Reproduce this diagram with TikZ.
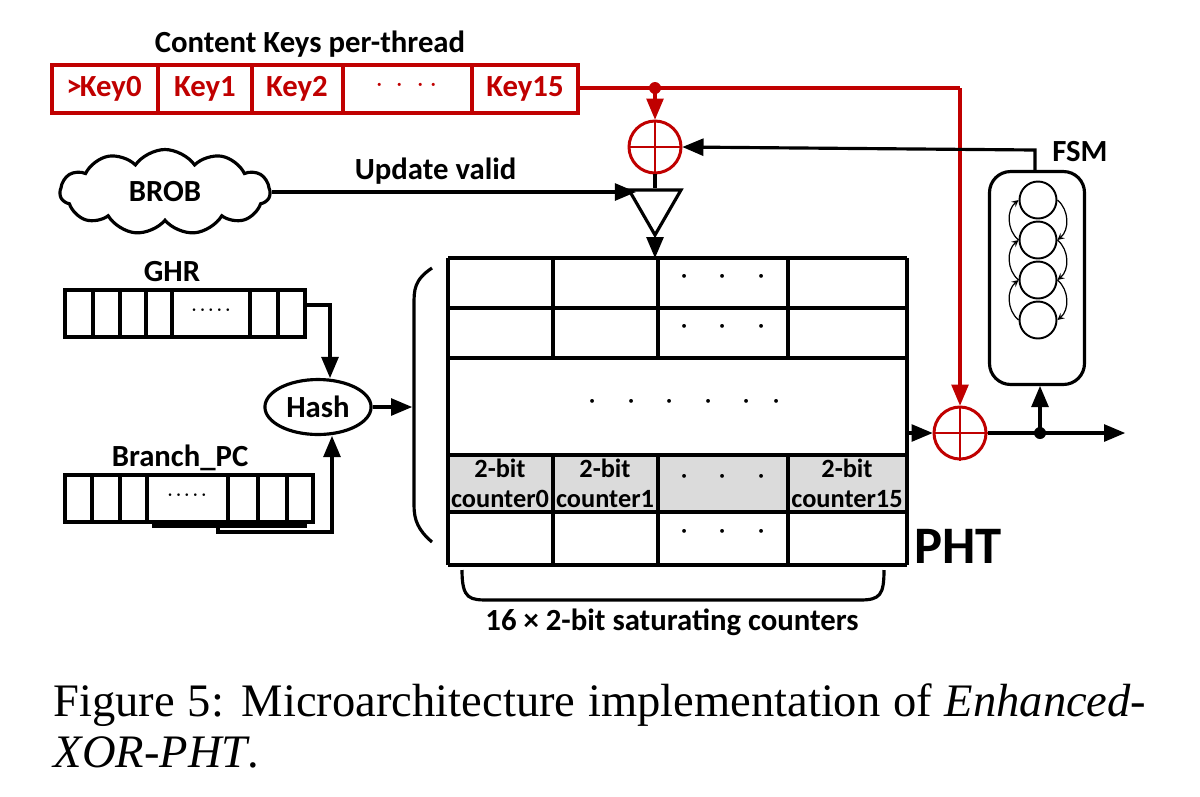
\documentclass[tikz,border=0pt]{standalone}
\usepackage{fontspec}
\setmainfont{Liberation Serif}
\newfontfamily\diafont{Carlito}
\usetikzlibrary{arrows,shapes.symbols,shapes.geometric,positioning}
\definecolor{keyred}{RGB}{192,0,0}
\tikzset{
  lbl/.style={font=\diafont\bfseries\fontsize{17.5}{20}\selectfont},
  cell/.style={font=\diafont\bfseries\fontsize{15}{17}\selectfont,align=center},
  dots/.style={font=\fontsize{20}{20}\selectfont,inner sep=1pt},
  xorc/.style={circle,draw=keyred,line width=1.7pt,minimum size=1.04cm,inner sep=0pt},
  arr/.style={-triangle 45,line width=1.8pt},
  state/.style={circle,draw,line width=1.1pt,minimum size=0.74cm,inner sep=0pt}
}
\begin{document}
\begin{tikzpicture}[x=0.02cm,y=-0.02cm,line width=1.8pt]
\useasboundingbox (0,0) rectangle (1200,796);
%%%%% Keys %%%%%
\node[lbl] (title) at (310,44) {Content Keys per-thread};
\draw[keyred] (52,65) rectangle (578,113);
\foreach \x in {158,252,343,472}{
\draw[keyred] (\x,65)--(\x,113);
}
\node[lbl,text=keyred] (k0) at (104,89) {>\kern-1pt Key0};
\node[lbl,text=keyred] (k1) at (205,89) {Key1};
\node[lbl,text=keyred] (k2) at (297,89) {Key2};
\node[dots,font=\fontsize{16}{16}\selectfont,text=keyred] (kd) at (407,86) {$\cdot\,\cdot\,\cdot\,\cdot$};
\node[lbl,text=keyred] (k15) at (525,89) {Key15};
\coordinate (kout) at (578,88);
\coordinate (ktap) at (655,88);
\coordinate (kcorner) at (960,88);
%%%%% XOR / buffer %%%%%
\node[xorc] (x1) at (655,147) {};
\draw[keyred,line width=1.5pt] (x1.north)--(x1.south) (x1.west)--(x1.east);
\node[xorc] (x2) at (960,433) {};
\draw[keyred,line width=1.5pt] (x2.north)--(x2.south) (x2.west)--(x2.east);
\draw[keyred] (kout)--(kcorner);
\fill[keyred] (ktap) circle (6);
\draw[keyred,arr] (ktap)--(x1.north);
\draw[keyred,arr] (kcorner)--(x2.north);
\node[isosceles triangle,shape border rotate=-90,draw,isosceles triangle apex angle=60,
  minimum height=0.9cm,inner sep=0pt] (buf) at (655,205) {};
\draw (x1.south)--(buf.north);
%%%%% BROB %%%%%
\node[cloud,draw,cloud puffs=11,cloud puff arc=110,aspect=2.6,minimum width=4.2cm,
  minimum height=1.7cm,lbl] (brob) at (165,192) {BROB};
\draw[arr] (brob.east)--(buf.west|-brob.east) node[lbl,pos=0.45,above] {Update valid};
%%%%% Table %%%%%
\fill[gray!28] (448,455) rectangle (907,512);
\foreach \y in {258,308,358,455,512,565}{
\draw (448,\y)--(907,\y);
}
\draw (448,258)--(448,565) (907,258)--(907,565);
\foreach \x in {553,658,788}{
\draw (\x,258)--(\x,358) (\x,455)--(\x,565);
}
\foreach \y in {283,333,483,538}{
\node[dots] at (723,\y-6) {$\cdot\;\;\cdot\;\;\cdot$};
}
\node[dots] (mid) at (685,402) {$\cdot\;\;\cdot\;\;\cdot\;\;\cdot\;\;\cdot\;\;\cdot$};
\node[cell] (c0) at (500,483) {2-bit\\counter0};
\node[cell] (c1) at (605,483) {2-bit\\counter1};
\node[cell] (c15) at (847,483) {2-bit\\counter15};
\node[font=\diafont\bfseries\fontsize{30}{32}\selectfont] (pht) at (958,546) {PHT};
\coordinate (ttop) at (655,258);
\draw[arr] (buf.south)--(ttop);
\draw (462,570) .. controls (462,600) and (470,600) .. (490,600) -- (860,600)
  .. controls (880,600) and (884,595) .. (884,570);
\node[lbl] (satlbl) at (672,622) {16 × 2-bit saturating counters};
\draw (432,268) .. controls (414,280) and (414,290) .. (414,305) -- (414,505)
  .. controls (414,520) and (418,530) .. (432,542);
%%%%% GHR / Branch_PC %%%%%
\node[lbl] (ghr) at (172,272) {GHR};
\draw (65,290) rectangle (305,337);
\foreach \x in {93,120,146,172,250,278}{
\draw (\x,290)--(\x,337);
}
\node[cell] at (211,311) {$\cdot\!\cdot\!\cdot\!\cdot\!\cdot$};
\node[lbl] (bpc) at (180,458) {Branch\_PC};
\draw (65,475) rectangle (313,522);
\foreach \x in {92,120,147,228,258,287}{
\draw (\x,475)--(\x,522);
}
\node[cell] at (187,496) {$\cdot\!\cdot\!\cdot\!\cdot\!\cdot$};
\node[ellipse,draw,lbl,minimum width=1.8cm,minimum height=1.1cm] (hash) at (318,407) {Hash};
\draw[arr] (305,305)--(330,305)--(hash.north-|330,0);
\draw (152,526)--(307,526);
\draw[arr] (218,526)--(218,532)--(332,532)--(hash.south-|332,0);
\draw[arr] (hash.east)--(412,407);
%%%%% FSM %%%%%
\node[draw,rounded corners=12pt,minimum width=1.9cm,minimum height=4.26cm] (fsm) at (1037,278) {};
\node[lbl] (fsml) at (1080,152) {FSM};
\foreach \i/\y in {1/200,2/240,3/280,4/320}{
\node[state] (s\i) at (1038,\y) {};
}
\foreach \a/\b in {1/2,2/3,3/4}{
\draw[-stealth,line width=0.7pt] (s\a.east) to[bend left=50] (s\b.east);
\draw[-stealth,line width=0.7pt] (s\b.west) to[bend left=50] (s\a.west);
}
\draw[arr] (fsm.north-|1035,0)--(1035,150)--(x1.east);
\draw[arr] (907,433)--(x2.west);
\coordinate (outend) at (1125,433);
\draw[arr] (x2.east)--(outend);
\fill (1040,433) circle (6);
\draw[arr] (1040,433)--(fsm.south-|1040,0);
%%%%% Caption %%%%%
\node[anchor=west,inner sep=0pt,font=\fontsize{26.5}{32}\selectfont] (cap1) at (52,705)
  {\makebox[622pt][s]{Figure 5: Microarchitecture implementation of \textit{Enhanced-}}};
\node[anchor=west,inner sep=0pt,font=\fontsize{26.5}{32}\selectfont] (cap2) at (52,752)
  {\textit{XOR-PHT}.};
\end{tikzpicture}
\end{document}
